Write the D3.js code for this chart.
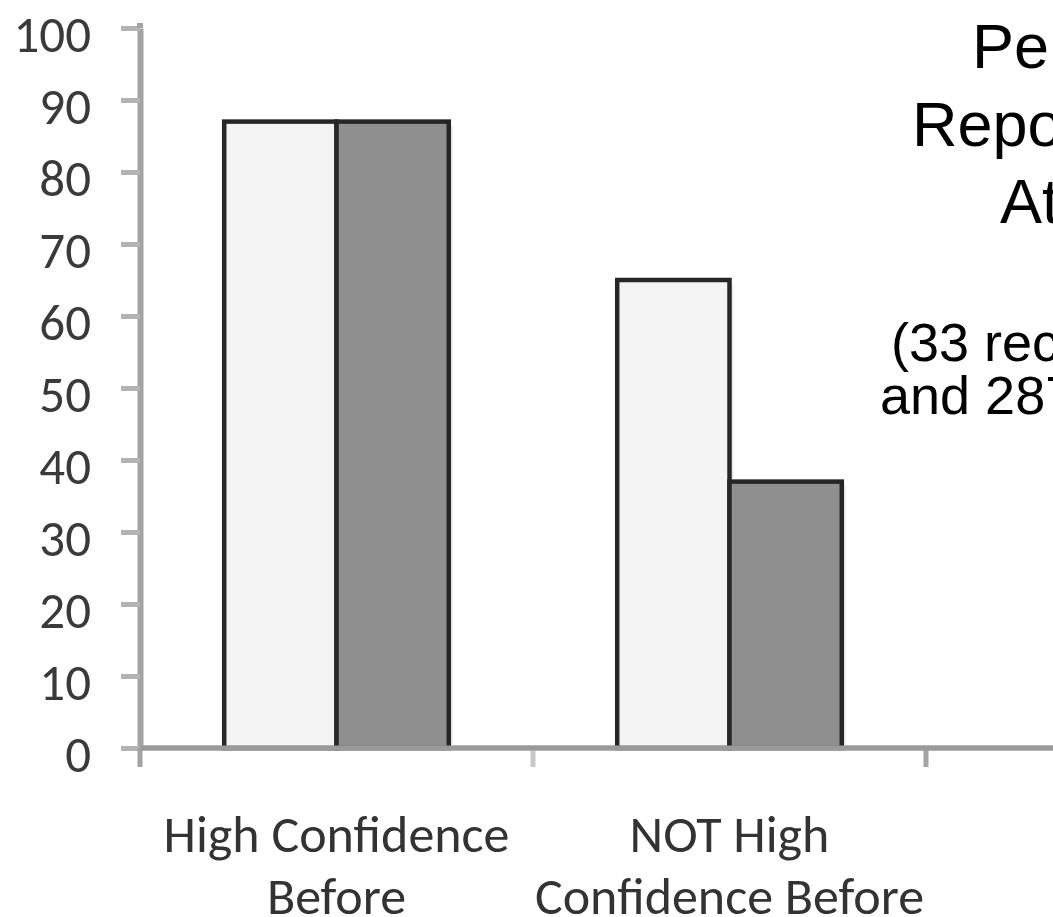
<!DOCTYPE html>
<html>
<head>
<meta charset="utf-8">
<script src="https://cdn.jsdelivr.net/npm/d3@7"></script>
<style>
  html, body { margin: 0; padding: 0; background: #ffffff; overflow: hidden; }
  svg { display: block; }
</style>
</head>
<body>
<svg id="chart" width="1053" height="917"></svg>
<script>
// ---- data ----
const categories = ["High Confidence Before", "NOT High Confidence Before"];
const categoryLines = [["High Confidence", "Before"], ["NOT High", "Confidence Before"]];
const seriesNames = ["Series 1", "Series 2"];
const series1Values = [87, 65];
const series2Values = [87, 37];
const yTickValues = [0, 10, 20, 30, 40, 50, 60, 70, 80, 90, 100];
const titleLines = ["Percent", "Reporting High", "At End"];
const subtitleLines = ["(33 recent graduates", "and 287 residents)"];

// ---- layout ----
const W = 1053, H = 917;
const plotLeft = 140, plotBottom = 748, plotTop = 28;
const step = 393;
const svg = d3.select("#chart");
svg.append("rect").attr("width", W).attr("height", H).attr("fill", "#fff");

const x = d3.scaleBand().domain(categories).range([plotLeft, plotLeft + step * categories.length]);
const bw = x.bandwidth();
const gapRatio = 1.5; // Excel gap width 150%
const barW = bw / (seriesNames.length + gapRatio);
const xs = d3.scaleBand().domain(seriesNames)
  .range([barW * gapRatio / 2, barW * gapRatio / 2 + barW * seriesNames.length]);
const y = d3.scaleLinear().domain([0, 100]).range([plotBottom, plotTop]);

const labelFont = "Carlito, Calibri, Lato, sans-serif";
const axisColor = "#a3a3a3";

// y axis
const yAxis = d3.axisLeft(y).tickValues(yTickValues).tickSize(19).tickSizeOuter(0).tickPadding(31);
const gy = svg.append("g").attr("transform", `translate(${plotLeft},0)`).call(yAxis);
gy.select(".domain").attr("stroke", axisColor).attr("stroke-width", 6);
gy.selectAll(".tick line").attr("stroke", "#b4b4b4").attr("stroke-width", 5);
gy.selectAll(".tick text")
  .attr("font-family", labelFont).attr("font-size", 51)
  .attr("fill", "#3a3a3a").attr("dy", null).attr("y", 23).attr("x", -49);
svg.append("line").attr("x1", plotLeft).attr("x2", plotLeft).attr("y1", plotTop).attr("y2", plotTop - 5)
  .attr("stroke", axisColor).attr("stroke-width", 6);

// x axis line and boundary ticks
const xg = svg.append("g");
xg.append("line").attr("x1", plotLeft).attr("x2", W).attr("y1", y(0)).attr("y2", y(0))
  .attr("stroke", axisColor).attr("stroke-width", 5);
const boundaries = categories.map(c => x(c)).concat([x.range()[1]]);
xg.selectAll("line.xt").data(boundaries).join("line").attr("class", "xt")
  .attr("x1", d => d).attr("x2", d => d).attr("y1", y(0)).attr("y2", y(0) + 19)
  .attr("stroke", (d, i) => i === 1 ? "#c8c8c8" : axisColor).attr("stroke-width", 5);

// bars
const rows = categories.map((c, i) => ({ cat: c, vals: [series1Values[i], series2Values[i]] }));
const fills = ["#f3f3f3", "#8f8f8f"];
const groups = svg.append("g").selectAll("g").data(rows).join("g")
  .attr("transform", d => `translate(${x(d.cat)},0)`);
groups.selectAll("rect.shadow").data(d => d.vals.map((v, j) => ({ s: seriesNames[j], v, j })))
  .join("rect").attr("class", "shadow")
  .attr("x", d => xs(d.s) + 4).attr("y", d => y(d.v) + 4)
  .attr("width", xs.bandwidth()).attr("height", d => y(0) - y(d.v) - 4)
  .attr("fill", "#ececec");
groups.selectAll("rect.bar").data(d => d.vals.map((v, j) => ({ s: seriesNames[j], v, j })))
  .join("rect").attr("class", "bar")
  .attr("x", d => xs(d.s)).attr("y", d => y(d.v))
  .attr("width", xs.bandwidth()).attr("height", d => y(0) - y(d.v))
  .attr("fill", d => fills[d.j]).attr("stroke", "#262626").attr("stroke-width", 4.5);

// redraw x axis line over bar bottoms
svg.append("line").attr("x1", plotLeft).attr("x2", W).attr("y1", y(0)).attr("y2", y(0))
  .attr("stroke", "#9a9a9a").attr("stroke-width", 5);

// category labels
categories.forEach((c, i) => {
  const cx = x(c) + bw / 2;
  categoryLines[i].forEach((ln, k) => {
    svg.append("text").attr("x", cx).attr("y", 852 + k * 62)
      .attr("text-anchor", "middle").attr("font-family", labelFont).attr("font-size", 52)
      .attr("fill", "#333").text(ln);
  });
});

// title (right side, partially outside the view)
const titleX = [972, 912, 1000];
titleLines.forEach((t, i) => {
  svg.append("text").attr("x", titleX[i]).attr("y", 68 + i * 77.5)
    .attr("font-family", "Liberation Sans, Arial, sans-serif").attr("font-size", 63)
    .attr("fill", "#000").text(t);
});
const subX = [891, 880];
subtitleLines.forEach((t, i) => {
  svg.append("text").attr("x", subX[i]).attr("y", 361 + i * 53)
    .attr("font-family", "Liberation Sans, Arial, sans-serif").attr("font-size", 54)
    .attr("fill", "#000").text(t);
});
</script>
</body>
</html>
